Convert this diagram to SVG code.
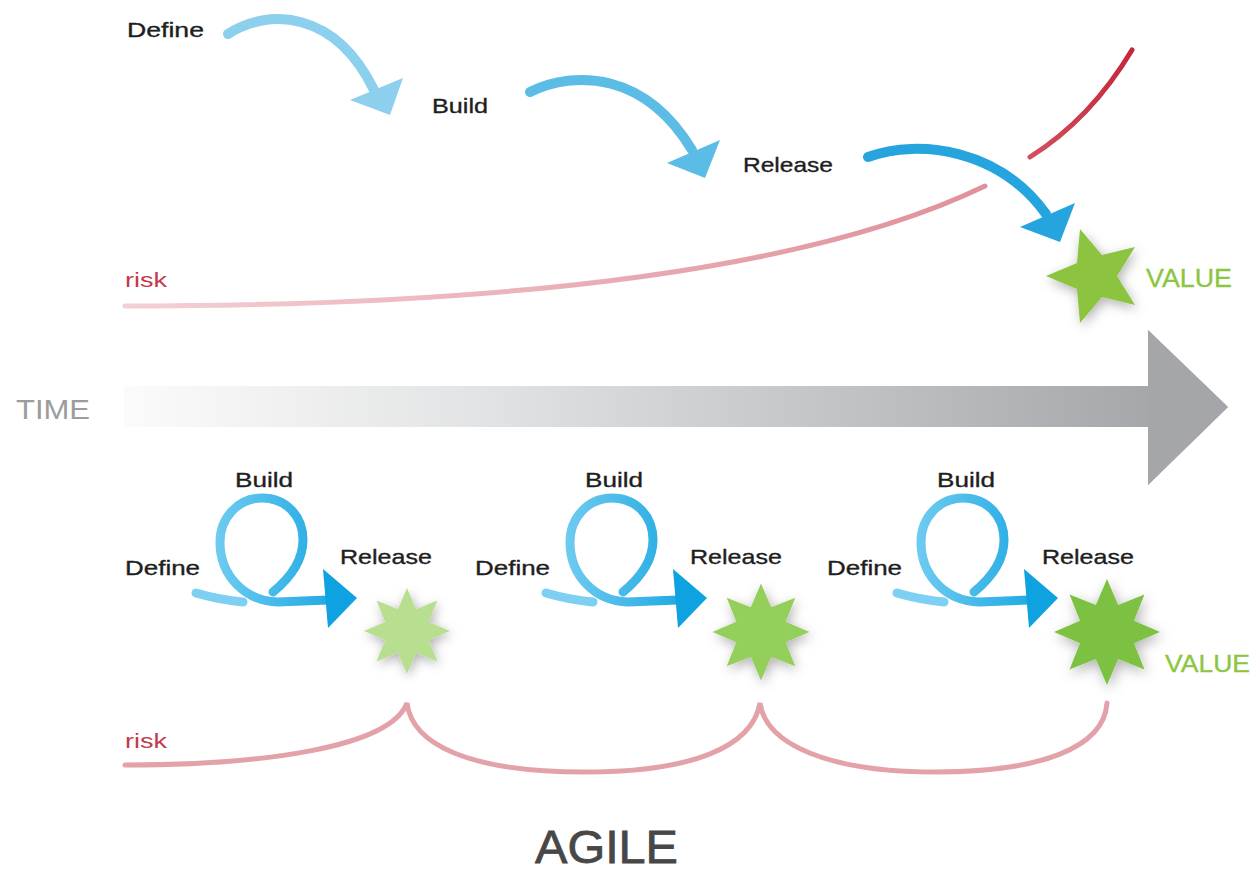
<svg xmlns="http://www.w3.org/2000/svg" xmlns:xlink="http://www.w3.org/1999/xlink" width="1254" height="872" viewBox="0 0 1254 872">
  <style>
    .lbl { font-family: "Liberation Sans", Arial, sans-serif; font-size: 21px; fill: #1e1e1e; stroke: #1e1e1e; stroke-width: 0.35px; }
    .risk { font-family: "Liberation Sans", Arial, sans-serif; font-size: 20px; fill: #c23a4b; }
    .value { font-family: "Liberation Sans", Arial, sans-serif; fill: #8cc63f; stroke: #8cc63f; stroke-width: 0.3px; }
    .time { font-family: "Liberation Sans", Arial, sans-serif; font-size: 28px; fill: #9b9c9e; }
    .title { font-family: "Liberation Sans", Arial, sans-serif; font-size: 46px; fill: #474747; stroke: #474747; stroke-width: 0.8px; }
    .flow { fill: none; stroke-linecap: round; stroke-width: 10; }
    .riskline { fill: none; stroke-linecap: round; stroke-width: 5; }
  </style>
  <defs>
    <linearGradient id="timeGrad" x1="124" y1="0" x2="1150" y2="0" gradientUnits="userSpaceOnUse">
      <stop offset="0" stop-color="#fbfbfb"/>
      <stop offset="0.35" stop-color="#e2e3e4"/>
      <stop offset="1" stop-color="#a6a7aa"/>
    </linearGradient>
    <linearGradient id="riskLow" x1="125" y1="0" x2="985" y2="0" gradientUnits="userSpaceOnUse">
      <stop offset="0" stop-color="#f3d0d4"/>
      <stop offset="1" stop-color="#e0909b"/>
    </linearGradient>
    <linearGradient id="riskHigh" x1="1030" y1="0" x2="1132" y2="0" gradientUnits="userSpaceOnUse">
      <stop offset="0" stop-color="#d2505e"/>
      <stop offset="1" stop-color="#c4283a"/>
    </linearGradient>
    <linearGradient id="loopGrad" x1="215" y1="0" x2="357" y2="0" gradientUnits="userSpaceOnUse">
      <stop offset="0" stop-color="#6fcbf0"/>
      <stop offset="1" stop-color="#0ea2e0"/>
    </linearGradient>
    <filter id="shadow" x="-40%" y="-40%" width="180%" height="180%">
      <feDropShadow dx="2" dy="4" stdDeviation="6" flood-color="#000000" flood-opacity="0.3"/>
    </filter>
    <!-- eight-pointed burst, outer radius 50 -->
    <polygon id="star8" points="0,-50 10.52,-25.41 35.36,-35.36 25.41,-10.52 50,0 25.41,10.52 35.36,35.36 10.52,25.41 0,50 -10.52,25.41 -35.36,35.36 -25.41,10.52 -50,0 -25.41,-10.52 -35.36,-35.36 -10.52,-25.41"/>
    <!-- define / build loop / release arrow used for each iteration -->
    <g id="loop">
      <path d="M196,593 Q220,600 243,602" fill="none" stroke="#7dd0f1" stroke-width="9" stroke-linecap="round"/>
      <path d="M273,592 C290,578 303,560 303,540 C303,515 285,498 262,498 C238,498 220,518 220,542 C220,576 245,601 278,602 L328,600" fill="none" stroke="url(#loopGrad)" stroke-width="9" stroke-linecap="round"/>
      <polygon points="323,569 357,598 328,628" fill="#0ea2e0"/>
    </g>
  </defs>

  <rect width="1254" height="872" fill="#ffffff"/>

  <!-- time axis -->
  <g id="time-axis">
    <polygon points="124,386 1148,386 1148,330 1228,407 1148,485 1148,427 124,427" fill="url(#timeGrad)"/>
    <polygon points="1148,330 1228,407 1148,485" fill="#a5a6a9"/>
    <text class="time" x="16" y="419" textLength="74" lengthAdjust="spacingAndGlyphs">TIME</text>
  </g>

  <!-- waterfall risk curve -->
  <g id="risk-top">
    <text class="risk" x="125" y="287" textLength="42" lengthAdjust="spacingAndGlyphs">risk</text>
    <path class="riskline" d="M125,306 C420,306 780,285 985,186" stroke="url(#riskLow)"/>
    <path class="riskline" d="M1030,157 C1070,132 1105,95 1132,50" stroke="url(#riskHigh)"/>
  </g>

  <!-- waterfall stages -->
  <g id="stage-define">
    <text class="lbl" x="127" y="37" textLength="77" lengthAdjust="spacingAndGlyphs">Define</text>
  </g>
  <g id="stage-build">
    <text class="lbl" x="432" y="113" textLength="56" lengthAdjust="spacingAndGlyphs">Build</text>
  </g>
  <g id="stage-release">
    <text class="lbl" x="743" y="172" textLength="90" lengthAdjust="spacingAndGlyphs">Release</text>
  </g>
  <g id="value-top">
    <polygon points="1046,276 1077,263 1080,229 1102,255 1135,247 1117,276 1135,305 1102,297 1080,323 1077,289" fill="#8cc43f" filter="url(#shadow)"/>
    <text class="value" x="1146" y="287" font-size="25" textLength="86" lengthAdjust="spacingAndGlyphs">VALUE</text>
  </g>

  <!-- waterfall connectors -->
  <g id="connectors">
    <path class="flow" d="M228,34 C268,8 335,10 374,90" stroke="#8dd0ee"/>
    <polygon points="350,100 403,78 390,115" fill="#8dd0ee"/>
    <path class="flow" d="M530,92 C575,70 645,72 692,150" stroke="#5bbce6"/>
    <polygon points="667,163 720,140 705,178" fill="#5bbce6"/>
    <path class="flow" d="M868,157 C920,138 1000,150 1046,214" stroke="#26a4dd"/>
    <polygon points="1020,227 1075,203 1060,242" fill="#26a4dd"/>
  </g>

  <!-- agile iterations -->
  <g id="iteration-1">
    <use xlink:href="#loop" href="#loop"/>
    <text class="lbl" x="125" y="575" textLength="75" lengthAdjust="spacingAndGlyphs">Define</text>
    <text class="lbl" x="235" y="487" textLength="58" lengthAdjust="spacingAndGlyphs">Build</text>
    <text class="lbl" x="340" y="564" textLength="92" lengthAdjust="spacingAndGlyphs">Release</text>
    <use xlink:href="#star8" href="#star8" transform="translate(407,631) scale(0.86)" fill="#b8de90" filter="url(#shadow)"/>
  </g>
  <g id="iteration-2">
    <use xlink:href="#loop" href="#loop" transform="translate(350,0)"/>
    <text class="lbl" x="475" y="575" textLength="75" lengthAdjust="spacingAndGlyphs">Define</text>
    <text class="lbl" x="585" y="487" textLength="58" lengthAdjust="spacingAndGlyphs">Build</text>
    <text class="lbl" x="690" y="564" textLength="92" lengthAdjust="spacingAndGlyphs">Release</text>
    <use xlink:href="#star8" href="#star8" transform="translate(761,632) scale(0.97)" fill="#93cf5a" filter="url(#shadow)"/>
  </g>
  <g id="iteration-3">
    <use xlink:href="#loop" href="#loop" transform="translate(701,0)"/>
    <text class="lbl" x="827" y="575" textLength="75" lengthAdjust="spacingAndGlyphs">Define</text>
    <text class="lbl" x="937" y="487" textLength="58" lengthAdjust="spacingAndGlyphs">Build</text>
    <text class="lbl" x="1042" y="564" textLength="92" lengthAdjust="spacingAndGlyphs">Release</text>
    <use xlink:href="#star8" href="#star8" transform="translate(1107,632) scale(1.06)" fill="#7cc142" filter="url(#shadow)"/>
    <text class="value" x="1165" y="672" font-size="23" textLength="85" lengthAdjust="spacingAndGlyphs">VALUE</text>
  </g>

  <!-- agile risk curve -->
  <g id="risk-bottom">
    <text class="risk" x="125" y="748" textLength="42" lengthAdjust="spacingAndGlyphs">risk</text>
    <path class="riskline" stroke="#e3a2aa" d="M125,765 C260,765 390,748 407,703 C412,745 470,772 585,772 C690,772 752,748 760,703 C766,745 830,772 935,772 C1040,772 1104,748 1107,703"/>
  </g>

  <text class="title" x="535" y="863" textLength="143" lengthAdjust="spacingAndGlyphs">AGILE</text>
</svg>
